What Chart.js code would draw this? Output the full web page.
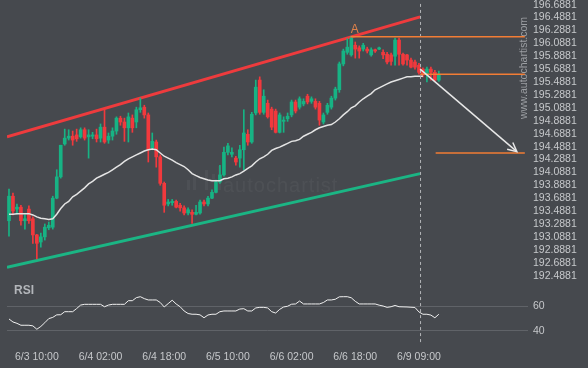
<!DOCTYPE html>
<html>
<head>
<meta charset="utf-8">
<script src="https://cdn.jsdelivr.net/npm/chart.js@4.4.1/dist/chart.umd.min.js"></script>
<style>
  html, body { margin: 0; padding: 0; background: #46494e; }
  body { width: 588px; height: 368px; position: relative; overflow: hidden; }
  #priceBox { position: absolute; left: 0; top: 0; width: 588px; height: 285px; }
  #rsiBox { position: absolute; left: 0; top: 285px; width: 588px; height: 83px; }
</style>
</head>
<body>
<div id="priceBox"><canvas id="priceChart"></canvas></div>
<div id="rsiBox"><canvas id="rsiChart"></canvas></div>
<script>
// hourly candles, index 0 = 6/3 03:00
const opens = [
    193.34, 193.72, 193.52, 193.55, 193.34, 193.52, 193.37, 193.12, 193.01, 193.09,
    193.23, 193.24, 193.69, 194.02, 194.53, 194.62, 194.65, 194.67, 194.64, 194.75,
    194.64, 194.65, 194.67, 194.62, 194.79, 194.59, 194.65, 194.73, 194.93, 194.87,
    194.78, 194.93, 194.87, 195.06, 195.10, 194.98, 194.47, 194.56, 194.33, 193.92,
    193.60, 193.62, 193.64, 193.58, 193.54, 193.46, 193.47, 193.44, 193.46, 193.63,
    193.60, 193.69, 193.78, 193.94, 194.05, 194.40, 194.37, 194.31, 194.31, 194.44,
    194.68, 194.56, 195.01, 195.52, 195.02, 195.16, 195.07, 195.04, 194.71, 194.88,
    194.92, 194.98, 195.18, 195.10, 195.15, 195.27, 195.19, 195.19, 195.16, 194.87,
    195.02, 195.10, 195.24, 195.37, 195.77, 195.95, 195.91, 196.06, 196.02, 196.00,
    196.00, 195.91, 195.99, 196.00, 195.95, 195.92, 195.91, 195.89, 196.14, 195.92,
    195.91, 195.83, 195.80, 195.75, 195.69, 195.61, 195.69, 195.64, 195.52
];
const highs = [
    193.83, 193.77, 193.60, 193.58, 193.43, 193.57, 193.40, 193.13, 193.15, 193.29,
    193.32, 193.72, 194.13, 194.51, 194.76, 194.75, 194.73, 194.76, 194.78, 194.78,
    194.75, 194.71, 194.76, 194.84, 195.06, 194.70, 194.78, 194.95, 194.96, 194.93,
    195.01, 194.98, 195.10, 195.24, 195.13, 195.01, 194.70, 194.59, 194.36, 193.94,
    193.67, 193.67, 193.66, 193.61, 193.57, 193.54, 193.51, 193.58, 193.66, 193.66,
    193.72, 193.82, 193.97, 194.20, 194.48, 194.54, 194.47, 194.34, 194.51, 195.06,
    194.75, 195.02, 195.52, 195.57, 195.37, 195.21, 195.10, 195.07, 195.01, 194.95,
    195.01, 195.21, 195.21, 195.26, 195.23, 195.30, 195.26, 195.23, 195.19, 195.01,
    195.16, 195.27, 195.41, 195.80, 196.00, 196.16, 196.20, 196.11, 196.05, 196.09,
    196.03, 196.02, 196.00, 196.03, 195.99, 195.95, 195.94, 196.17, 196.17, 195.94,
    195.92, 195.86, 195.83, 195.78, 195.71, 195.72, 195.72, 195.67, 195.66
];
const lows = [
    193.10, 193.43, 193.44, 193.27, 193.21, 193.30, 192.99, 192.75, 192.93, 193.04,
    193.20, 193.21, 193.68, 194.00, 194.51, 194.59, 194.51, 194.57, 194.62, 194.59,
    194.31, 194.61, 194.56, 194.56, 194.54, 194.54, 194.59, 194.68, 194.82, 194.57,
    194.56, 194.71, 194.78, 195.02, 194.93, 194.25, 194.44, 194.17, 193.89, 193.47,
    193.57, 193.58, 193.54, 193.49, 193.43, 193.43, 193.30, 193.43, 193.44, 193.57,
    193.57, 193.68, 193.77, 193.92, 194.03, 194.36, 194.33, 194.20, 194.17, 194.13,
    194.51, 194.54, 194.98, 194.99, 194.99, 194.93, 194.75, 194.70, 194.70, 194.71,
    194.88, 194.95, 195.01, 195.07, 195.12, 195.15, 195.16, 195.07, 194.82, 194.84,
    194.99, 195.07, 195.21, 195.33, 195.74, 195.92, 195.89, 195.86, 195.86, 195.97,
    195.94, 195.89, 195.95, 195.99, 195.85, 195.77, 195.75, 195.75, 195.75, 195.75,
    195.75, 195.71, 195.69, 195.61, 195.57, 195.49, 195.52, 195.50, 195.50
];
const closes = [
    193.72, 193.49, 193.55, 193.34, 193.37, 193.34, 193.12, 192.99, 193.09, 193.24,
    193.27, 193.69, 194.02, 194.51, 194.62, 194.65, 194.59, 194.61, 194.75, 194.62,
    194.67, 194.67, 194.61, 194.79, 194.56, 194.65, 194.73, 194.93, 194.87, 194.78,
    194.95, 194.78, 195.06, 195.09, 194.98, 194.44, 194.57, 194.33, 193.92, 193.58,
    193.63, 193.64, 193.55, 193.54, 193.46, 193.51, 193.44, 193.47, 193.63, 193.60,
    193.69, 193.78, 193.94, 194.05, 194.40, 194.50, 194.40, 194.25, 194.44, 194.70,
    194.56, 194.99, 195.41, 195.02, 195.27, 194.95, 194.79, 194.71, 194.98, 194.90,
    194.96, 195.18, 195.04, 195.23, 195.19, 195.18, 195.23, 195.10, 194.90, 194.98,
    195.13, 195.24, 195.38, 195.77, 195.97, 196.03, 196.17, 196.00, 195.97, 196.06,
    195.97, 195.99, 195.97, 196.02, 195.91, 195.80, 195.81, 196.14, 195.92, 195.77,
    195.83, 195.72, 195.72, 195.64, 195.60, 195.69, 195.64, 195.52, 195.61
];
const movingAvg = [
    193.44, 193.44, 193.45, 193.45, 193.45, 193.45, 193.43, 193.40, 193.38, 193.37,
    193.36, 193.37, 193.44, 193.53, 193.60, 193.64, 193.71, 193.75, 193.80, 193.85,
    193.91, 193.95, 194.00, 194.03, 194.06, 194.09, 194.13, 194.17, 194.21, 194.26,
    194.30, 194.33, 194.36, 194.39, 194.42, 194.44, 194.45, 194.44, 194.39, 194.34,
    194.31, 194.28, 194.24, 194.21, 194.18, 194.13, 194.07, 194.04, 194.01, 193.99,
    193.97, 193.96, 193.96, 193.96, 193.99, 194.00, 194.02, 194.05, 194.07, 194.11,
    194.15, 194.19, 194.25, 194.30, 194.33, 194.37, 194.43, 194.46, 194.48, 194.51,
    194.54, 194.57, 194.58, 194.60, 194.65, 194.68, 194.71, 194.75, 194.78, 194.80,
    194.82, 194.83, 194.87, 194.92, 194.98, 195.03, 195.09, 195.12, 195.18, 195.23,
    195.27, 195.31, 195.37, 195.40, 195.43, 195.46, 195.49, 195.51, 195.53, 195.55,
    195.57, 195.57, 195.58, 195.58, 195.58
];
const rsiValues = [
    49.7, 47.2, 46.1, 44.5, 44.5, 44.5, 44.0, 41.2, 43.5, 46.6,
    50.0, 51.0, 53.1, 53.2, 55.7, 55.7, 55.7, 58.3, 61.2, 61.8,
    61.8, 61.8, 61.8, 61.8, 59.8, 61.2, 61.8, 61.8, 61.8, 61.8,
    64.8, 64.8, 67.3, 68.1, 66.5, 65.4, 65.4, 65.4, 63.3, 59.6,
    62.4, 65.2, 62.1, 59.8, 56.3, 54.2, 53.6, 53.6, 53.1, 50.7,
    53.0, 53.6, 53.6, 55.7, 56.3, 56.3, 56.3, 56.3, 57.9, 58.2,
    56.3, 56.3, 58.8, 59.3, 59.3, 58.8, 55.7, 54.6, 57.6, 59.6,
    60.2, 61.9, 62.1, 64.5, 62.1, 62.1, 62.1, 62.1, 62.1, 63.3,
    65.4, 65.4, 66.0, 68.0, 68.1, 68.1, 67.2, 64.3, 62.1, 62.1,
    62.1, 62.1, 62.1, 61.1, 60.4, 59.3, 59.8, 60.9, 59.8, 59.7,
    59.6, 59.4, 59.2, 55.5, 53.6, 53.6, 52.9, 50.7, 53.6
];

// time axis
const timeTickIdx = [7, 23, 39, 55, 71, 87, 103];
const timeTickLabels = ['6/3 10:00', '6/4 02:00', '6/4 18:00', '6/5 10:00', '6/6 02:00', '6/6 18:00', '6/9 09:00'];
const priceTicks = [
    196.6881, 196.4881, 196.2881, 196.0881, 195.8881, 195.6881, 195.4881, 195.2881,
    195.0881, 194.8881, 194.6881, 194.4881, 194.2881, 194.0881, 193.8881, 193.6881,
    193.4881, 193.2881, 193.0881, 192.8881, 192.6881, 192.4881
];
const rsiGrid = [40, 60];

// pattern overlay: [index, price]
const channelTop = [[-0.5, 194.64], [103.3, 196.50]];
const channelBottom = [[-0.5, 192.62], [103.3, 194.07]];
const resistanceLine = [[85.8, 196.19], [129.6, 196.19]];
const breakLevel = [[103.3, 195.61], [129.6, 195.61]];
const targetLevel = [[107.2, 194.39], [129.6, 194.39]];
const forecastArrow = [[103.3, 195.69], [127.6, 194.41]];
const pointA = [86.9, 196.30];
const nowIdx = 103.4;

const GREEN = '#17b384';
const RED = '#f1393d';
const ORANGE = '#f27d35';
const X_MIN = -0.5, X_MAX = 130.4;

Chart.defaults.font.family = '"Liberation Sans", Arial, sans-serif';
Chart.defaults.font.size = 10.5;
Chart.defaults.color = '#c6c8cb';

const idx = opens.map((_, i) => i);
const candleColors = idx.map(i => closes[i] >= opens[i] ? GREEN : RED);
const toPts = arr => arr.map(p => ({ x: p[0], y: p[1] }));

function lineDs(points, color, width, order, extra) {
    return Object.assign({
        type: 'line',
        data: toPts(points),
        borderColor: color,
        borderWidth: width,
        pointRadius: 0,
        tension: 0,
        fill: false,
        order
    }, extra || {});
}

const priceDecor = {
    id: 'priceDecor',
    beforeDatasetsDraw(chart) {
        const ctx = chart.ctx;
        ctx.save();
        // watermark
        ctx.fillStyle = 'rgba(255,255,255,0.045)';
        [[187, 180, 3, 10], [193, 176, 3, 14], [205, 170, 3, 20], [212, 174, 3, 8], [218, 166, 3, 24]]
            .forEach(r => ctx.fillRect(r[0], r[1], r[2], r[3]));
        ctx.font = '20px "Liberation Sans", Arial, sans-serif';
        ctx.letterSpacing = '1px';
        ctx.textBaseline = 'alphabetic';
        ctx.fillText('autochartist', 223, 192);
        ctx.letterSpacing = '0px';
        // site url
        ctx.translate(524, 68);
        ctx.rotate(-Math.PI / 2);
        ctx.fillStyle = '#9c9fa3';
        ctx.font = '10.5px "Liberation Sans", Arial, sans-serif';
        ctx.textAlign = 'center';
        ctx.textBaseline = 'middle';
        ctx.fillText('www.autochartist.com', 0, 0);
        ctx.restore();
    },
    afterDatasetsDraw(chart) {
        const ctx = chart.ctx;
        const xs = chart.scales.x, ys = chart.scales.y;
        ctx.save();
        // arrow head
        const x1 = xs.getPixelForValue(forecastArrow[0][0]), y1 = ys.getPixelForValue(forecastArrow[0][1]);
        const x2 = xs.getPixelForValue(forecastArrow[1][0]), y2 = ys.getPixelForValue(forecastArrow[1][1]);
        const ang = Math.atan2(y2 - y1, x2 - x1);
        ctx.strokeStyle = '#e8e8e8';
        ctx.lineWidth = 1.5;
        ctx.beginPath();
        ctx.moveTo(x2 - 10 * Math.cos(ang - 0.45), y2 - 10 * Math.sin(ang - 0.45));
        ctx.lineTo(x2, y2);
        ctx.lineTo(x2 - 10 * Math.cos(ang + 0.45), y2 - 10 * Math.sin(ang + 0.45));
        ctx.stroke();
        // point label
        ctx.fillStyle = '#e0824a';
        ctx.font = '12px "Liberation Sans", Arial, sans-serif';
        ctx.textAlign = 'center';
        ctx.textBaseline = 'middle';
        ctx.fillText('A', xs.getPixelForValue(pointA[0]), ys.getPixelForValue(pointA[1]));
        ctx.restore();
    }
};

new Chart(document.getElementById('priceChart'), {
    type: 'bar',
    data: {
        datasets: [
            lineDs(forecastArrow, '#e8e8e8', 1.5, 0),
            lineDs(resistanceLine, ORANGE, 1.5, 1),
            lineDs(breakLevel, ORANGE, 1.5, 1),
            lineDs(targetLevel, ORANGE, 1.5, 1),
            lineDs([[nowIdx, 196.70], [nowIdx, 192.344]], '#b4b6b9', 1, 2, { borderDash: [3, 3] }),
            lineDs(idx.slice(0, movingAvg.length).map(i => [i, movingAvg[i]]), '#e4e4e4', 1.5, 3),
            {
                type: 'bar',
                data: idx.map(i => ({ x: i, y: [opens[i], closes[i]] })),
                backgroundColor: candleColors,
                barThickness: 3,
                minBarLength: 1,
                grouped: false,
                order: 4
            },
            {
                type: 'bar',
                data: idx.map(i => ({ x: i, y: [lows[i], highs[i]] })),
                backgroundColor: candleColors,
                barThickness: 1,
                grouped: false,
                order: 5
            },
            lineDs(channelTop, '#ee3b3d', 3, 6),
            lineDs(channelBottom, '#1bb584', 3, 6)
        ]
    },
    options: {
        responsive: true,
        maintainAspectRatio: false,
        animation: false,
        events: [],
        layout: { padding: { left: 7, right: 0, top: 0, bottom: 0 } },
        plugins: { legend: { display: false }, tooltip: { enabled: false } },
        scales: {
            x: { type: 'linear', display: false, min: X_MIN, max: X_MAX, offset: false },
            y: {
                position: 'right',
                min: 192.344,
                max: 196.7609,
                grid: { display: false, drawTicks: false },
                border: { display: false },
                ticks: { padding: 5, autoSkip: false, callback: v => v.toFixed(4) },
                afterBuildTicks: s => { s.ticks = priceTicks.map(v => ({ value: v })); },
                afterFit: s => { s.width = 60; s.paddingTop = 0; s.paddingBottom = 0; }
            }
        }
    },
    plugins: [priceDecor]
});

const rsiDecor = {
    id: 'rsiDecor',
    afterDraw(chart) {
        const ctx = chart.ctx;
        ctx.save();
        ctx.fillStyle = '#b3b6ba';
        ctx.font = 'bold 12px "Liberation Sans", Arial, sans-serif';
        ctx.textBaseline = 'middle';
        ctx.fillText('RSI', 14, 6);
        ctx.restore();
    }
};

new Chart(document.getElementById('rsiChart'), {
    type: 'line',
    data: {
        datasets: [
            {
                data: idx.map(i => ({ x: i, y: rsiValues[i] })),
                borderColor: '#f0f0f0',
                borderWidth: 1,
                pointRadius: 0,
                tension: 0,
                order: 1
            },
            {
                data: [{ x: nowIdx, y: 77.7 }, { x: nowIdx, y: 29.8 }],
                borderColor: '#b4b6b9',
                borderWidth: 1,
                borderDash: [3, 3],
                pointRadius: 0,
                order: 0
            }
        ]
    },
    options: {
        responsive: true,
        maintainAspectRatio: false,
        animation: false,
        events: [],
        layout: { padding: { left: 7, right: 0, top: 0, bottom: 0 } },
        plugins: { legend: { display: false }, tooltip: { enabled: false } },
        scales: {
            x: {
                type: 'linear',
                min: X_MIN,
                max: X_MAX,
                offset: false,
                grid: { display: false, drawTicks: false },
                border: { display: false },
                ticks: {
                    padding: 6,
                    autoSkip: false,
                    maxRotation: 0,
                    callback: v => timeTickLabels[timeTickIdx.indexOf(v)]
                },
                afterBuildTicks: s => { s.ticks = timeTickIdx.map(v => ({ value: v })); },
                afterFit: s => { s.height = 23; s.paddingLeft = 0; s.paddingRight = 0; }
            },
            y: {
                position: 'right',
                min: 28.18,
                max: 77.77,
                grid: { color: '#606368', drawTicks: false },
                border: { display: false },
                ticks: { padding: 5, autoSkip: false },
                afterBuildTicks: s => { s.ticks = rsiGrid.map(v => ({ value: v })); },
                afterFit: s => { s.width = 60; s.paddingTop = 0; s.paddingBottom = 0; }
            }
        }
    },
    plugins: [rsiDecor]
});
</script>
</body>
</html>
